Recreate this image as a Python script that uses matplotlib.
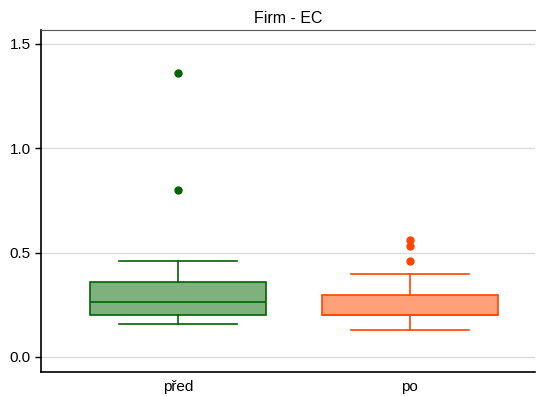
import matplotlib
matplotlib.use("Agg")
import matplotlib.pyplot as plt

plt.rcParams['font.family'] = ['Liberation Sans', 'DejaVu Sans']

categories = ["před", "po"]
q1 = [0.201, 0.200]
med = [0.263, 0.200]
q3 = [0.359, 0.297]
whislo = [0.158, 0.129]
whishi = [0.460, 0.398]
fliers = [[1.361, 0.800], [0.560, 0.532, 0.460]]
edge_colors = ["#006400", "#FF4500"]
fill_colors = ["#7FB17F", "#FFA07A"]

fig = plt.figure(figsize=(5.36, 3.96), dpi=100)
ax = fig.add_axes([41/536, 1-372/396, 494/536, 342/396])

stats = []
for i, c in enumerate(categories):
    stats.append(dict(label=c, q1=q1[i], med=med[i], q3=q3[i],
                      whislo=whislo[i], whishi=whishi[i], fliers=fliers[i]))

for i, s in enumerate(stats):
    ec = edge_colors[i]
    ax.bxp([s], positions=[i], widths=0.76, patch_artist=True,
           showfliers=True, manage_ticks=False,
           boxprops=dict(facecolor=fill_colors[i], edgecolor=ec, linewidth=1.2),
           medianprops=dict(color=ec, linewidth=1.2),
           whiskerprops=dict(color=ec, linewidth=1.2),
           capprops=dict(color=ec, linewidth=1.2),
           capwidths=0.51,
           flierprops=dict(marker='o', markerfacecolor=ec, markeredgecolor=ec,
                           markersize=5, linestyle='none'))

ax.set_xlim(-0.59, 1.54)
ax.set_ylim(-0.072, 1.567)
ax.set_xticks(range(len(categories)))
ax.set_xticklabels(categories, fontsize=11)
ax.tick_params(axis='x', length=0, pad=6)
ax.set_yticks([0.0, 0.5, 1.0, 1.5])
ax.set_yticklabels(["0.0", "0.5", "1.0", "1.5"], fontsize=11)
ax.tick_params(axis='y', length=4, width=1, direction='out', color='black')
ax.yaxis.grid(True, color='#DDDDDD', linewidth=1)
ax.set_axisbelow(True)
ax.spines['right'].set_visible(False)
ax.spines['top'].set_color('#555555')
ax.spines['left'].set_linewidth(1.2)
ax.spines['bottom'].set_linewidth(1.2)
ax.set_title("Firm - EC", fontsize=11.5, pad=5)

fig.savefig("out.png", dpi=100)
